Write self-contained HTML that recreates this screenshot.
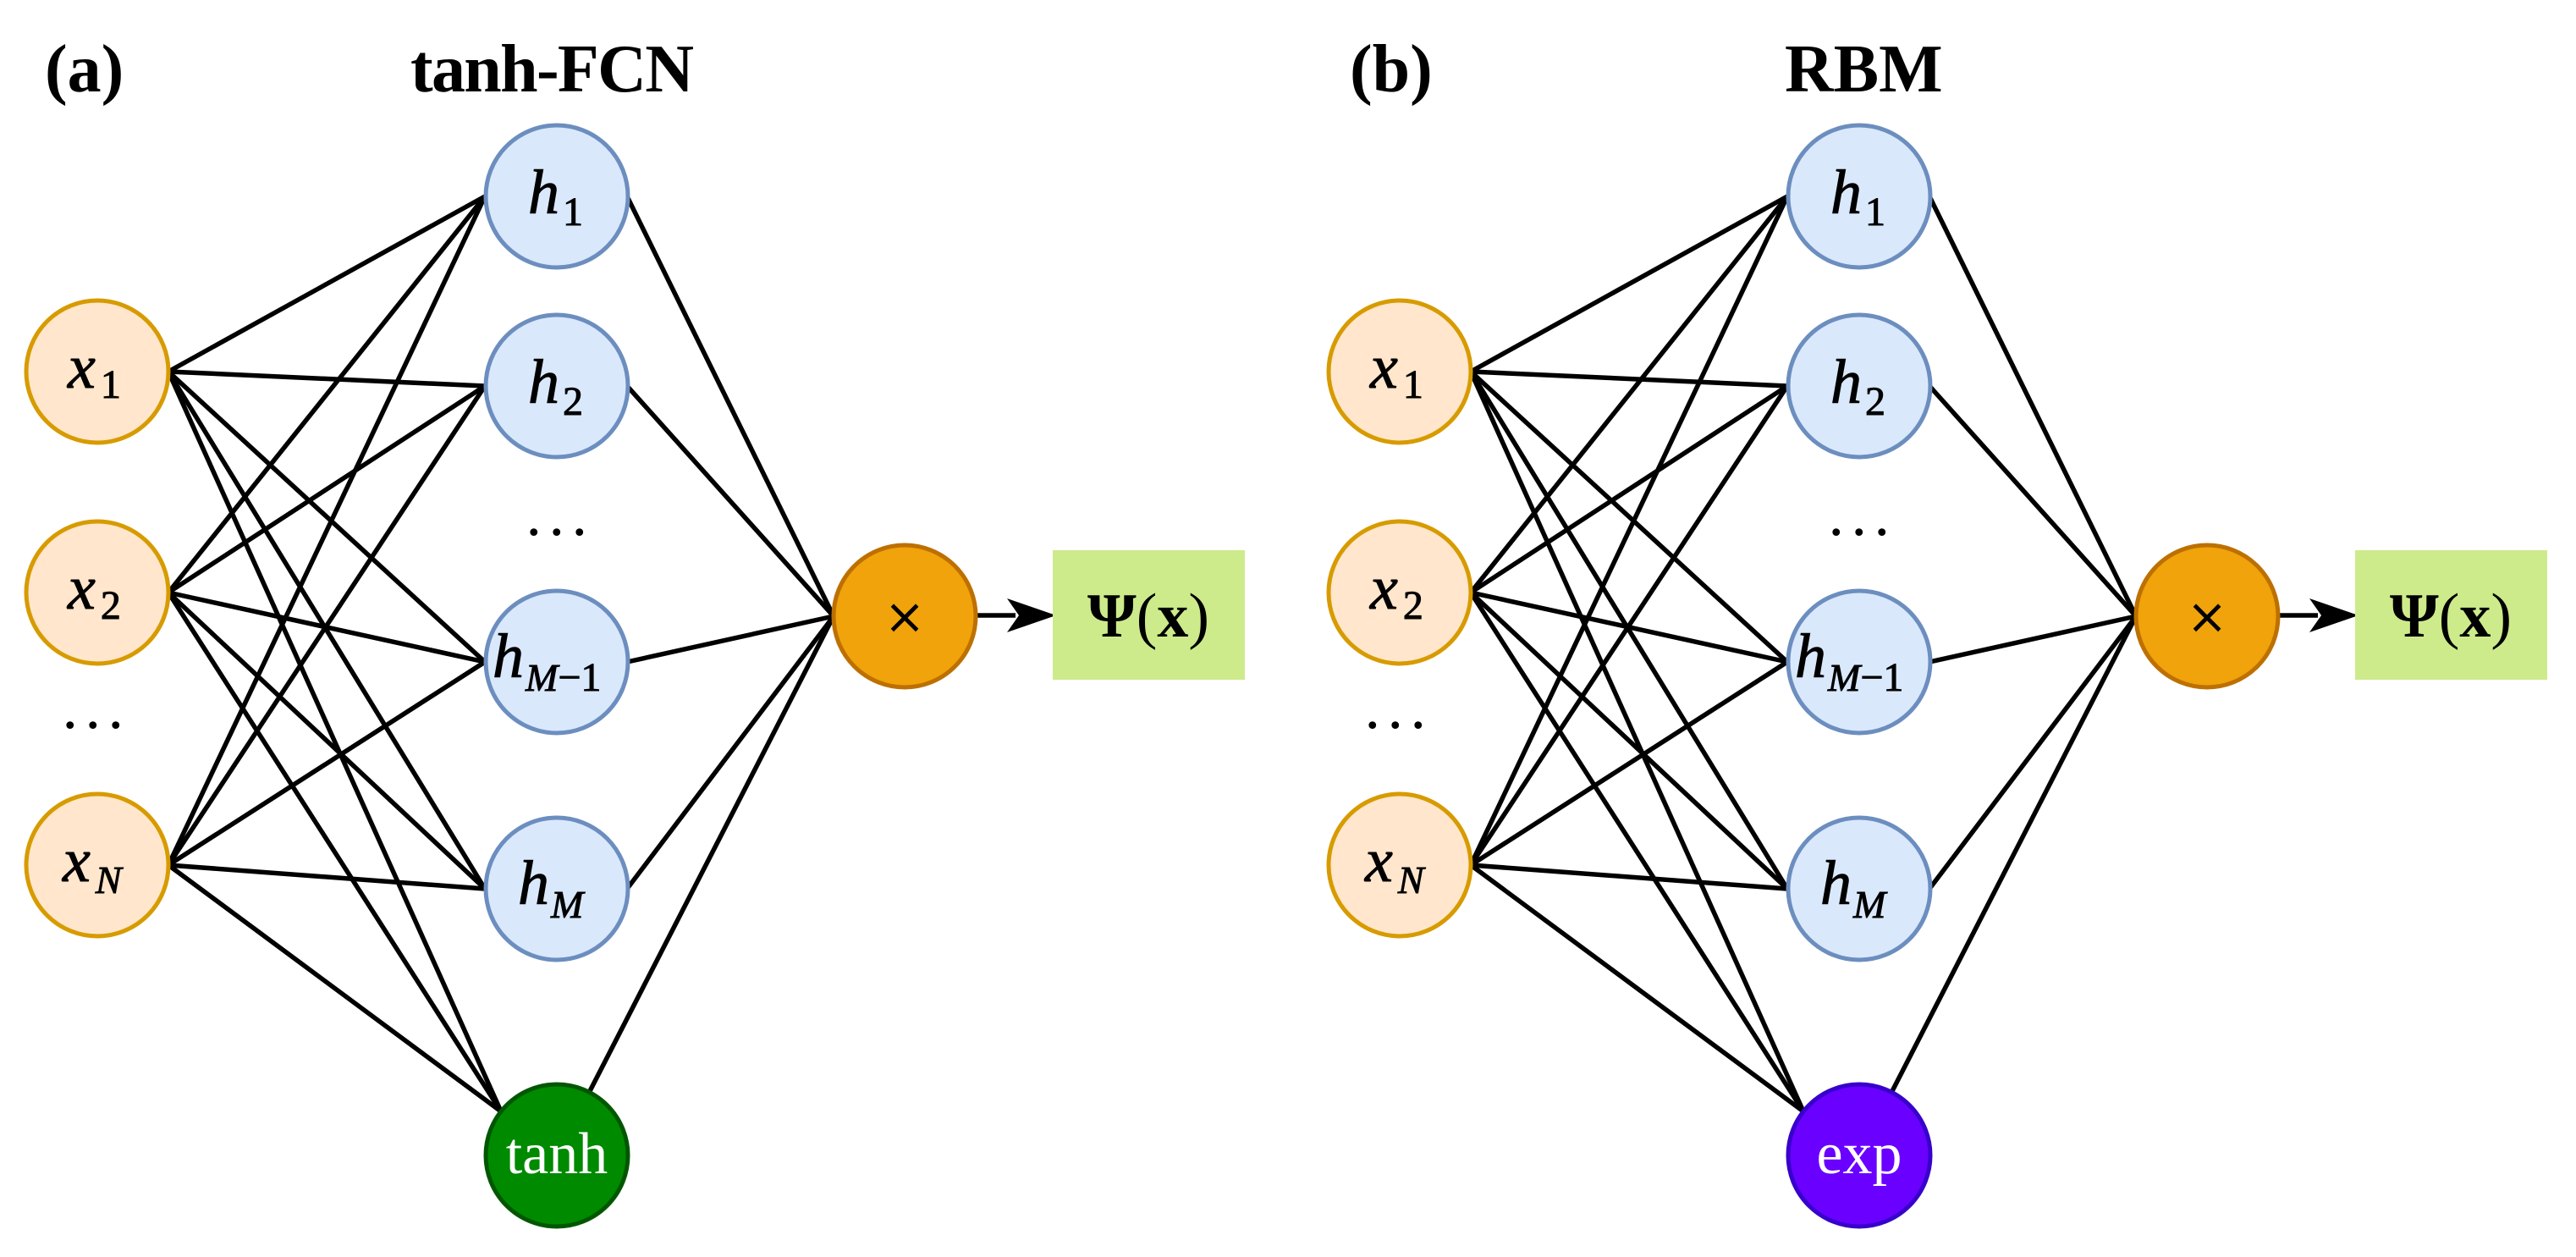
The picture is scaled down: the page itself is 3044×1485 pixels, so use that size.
<!DOCTYPE html>
<html><head><meta charset="utf-8"><style>
html,body{margin:0;padding:0;background:#fff;}
svg{display:block;}
.t{font-family:"Liberation Serif",serif;font-weight:bold;font-size:80px;fill:#000;}
.m{font-family:"Liberation Serif",serif;font-style:italic;font-size:74px;fill:#000;stroke:#000;stroke-width:1;}
.s{font-family:"Liberation Serif",serif;font-style:normal;font-weight:normal;font-size:48px;}
.si{font-family:"Liberation Serif",serif;font-style:italic;font-weight:normal;font-size:46px;}
.e line{stroke:#000;stroke-width:5.5;}
</style></head><body>
<svg width="3044" height="1485" viewBox="0 0 3044 1485" xmlns="http://www.w3.org/2000/svg">
<defs>
<g id="panel">
 <g class="e">
  <line x1="199" y1="439" x2="573" y2="232"/><line x1="199" y1="439" x2="573" y2="456"/><line x1="199" y1="439" x2="573" y2="782"/><line x1="199" y1="439" x2="573" y2="1050"/><line x1="199" y1="439" x2="592" y2="1313"/>
  <line x1="199" y1="700" x2="573" y2="232"/><line x1="199" y1="700" x2="573" y2="456"/><line x1="199" y1="700" x2="573" y2="782"/><line x1="199" y1="700" x2="573" y2="1050"/><line x1="199" y1="700" x2="592" y2="1313"/>
  <line x1="199" y1="1022" x2="573" y2="232"/><line x1="199" y1="1022" x2="573" y2="456"/><line x1="199" y1="1022" x2="573" y2="782"/><line x1="199" y1="1022" x2="573" y2="1050"/><line x1="199" y1="1022" x2="592" y2="1313"/>
  <line x1="741" y1="232" x2="985" y2="728"/><line x1="741" y1="456" x2="985" y2="728"/><line x1="741" y1="782" x2="985" y2="728"/><line x1="741" y1="1050" x2="985" y2="728"/><line x1="697" y1="1289" x2="985" y2="728"/>
  <line x1="1153" y1="727" x2="1200" y2="727"/>
 </g>
 <polygon points="1248,727 1190,707 1204,727 1190,747" fill="#000"/>
 <g fill="#ffe6cc" stroke="#d79b00" stroke-width="5">
  <circle cx="115" cy="439" r="84"/><circle cx="115" cy="700" r="84"/><circle cx="115" cy="1022" r="84"/>
 </g>
 <g fill="#dae8fc" stroke="#6c8ebf" stroke-width="5">
  <circle cx="658" cy="232" r="84"/><circle cx="658" cy="456" r="84"/><circle cx="658" cy="782" r="84"/><circle cx="658" cy="1050" r="84"/>
 </g>
 <circle cx="1069" cy="728" r="84" fill="#f0a30a" stroke="#bd7000" stroke-width="5"/>
 <rect x="1244" y="650" width="227" height="153" fill="#cdeb8b"/>
 <text class="m" x="80" y="458">x<tspan class="s" dx="6" dy="12">1</tspan></text>
 <text class="m" x="80" y="719">x<tspan class="s" dx="6" dy="12">2</tspan></text>
 <text class="m" x="74" y="1041">x<tspan class="si" dx="6" dy="14">N</tspan></text>
 <text class="m" x="624" y="252">h<tspan class="s" dx="4" dy="14">1</tspan></text>
 <text class="m" x="624" y="476">h<tspan class="s" dx="4" dy="14">2</tspan></text>
 <text class="m" x="582" y="800">h<tspan class="si" dx="2" dy="16">M</tspan><tspan class="s">−1</tspan></text>
 <text class="m" x="612" y="1068">h<tspan class="si" dx="2" dy="16">M</tspan></text>
 <text x="624" y="632" font-family="Liberation Serif,serif" font-size="54" font-weight="bold">. . .</text>
 <text x="76" y="860" font-family="Liberation Serif,serif" font-size="54" font-weight="bold">. . .</text>
 <text x="1069" y="748" text-anchor="middle" font-family="DejaVu Sans,sans-serif" font-size="58">×</text>
 <text x="1357" y="752" text-anchor="middle" font-family="Liberation Serif,serif" font-size="74" font-weight="bold">Ψ<tspan font-weight="normal">(</tspan>x<tspan font-weight="normal">)</tspan></text>
</g>
</defs>
<use href="#panel"/>
<circle cx="658" cy="1365" r="84" fill="#008a00" stroke="#005700" stroke-width="5"/>
<text x="658" y="1386" text-anchor="middle" font-family="Liberation Serif,serif" font-size="70" fill="#fff">tanh</text>
<text class="t" x="53" y="108">(a)</text>
<text class="t" x="485" y="108" textLength="335">tanh-FCN</text>

<g transform="translate(1539,0)">
<use href="#panel"/>
<circle cx="658" cy="1365" r="84" fill="#6a00ff" stroke="#3700cc" stroke-width="5"/>
<text x="658" y="1386" text-anchor="middle" font-family="Liberation Serif,serif" font-size="70" fill="#fff">exp</text>
<text class="t" x="56" y="108">(b)</text>
<text class="t" x="570" y="108">RBM</text>
</g>
</svg>
</body></html>
